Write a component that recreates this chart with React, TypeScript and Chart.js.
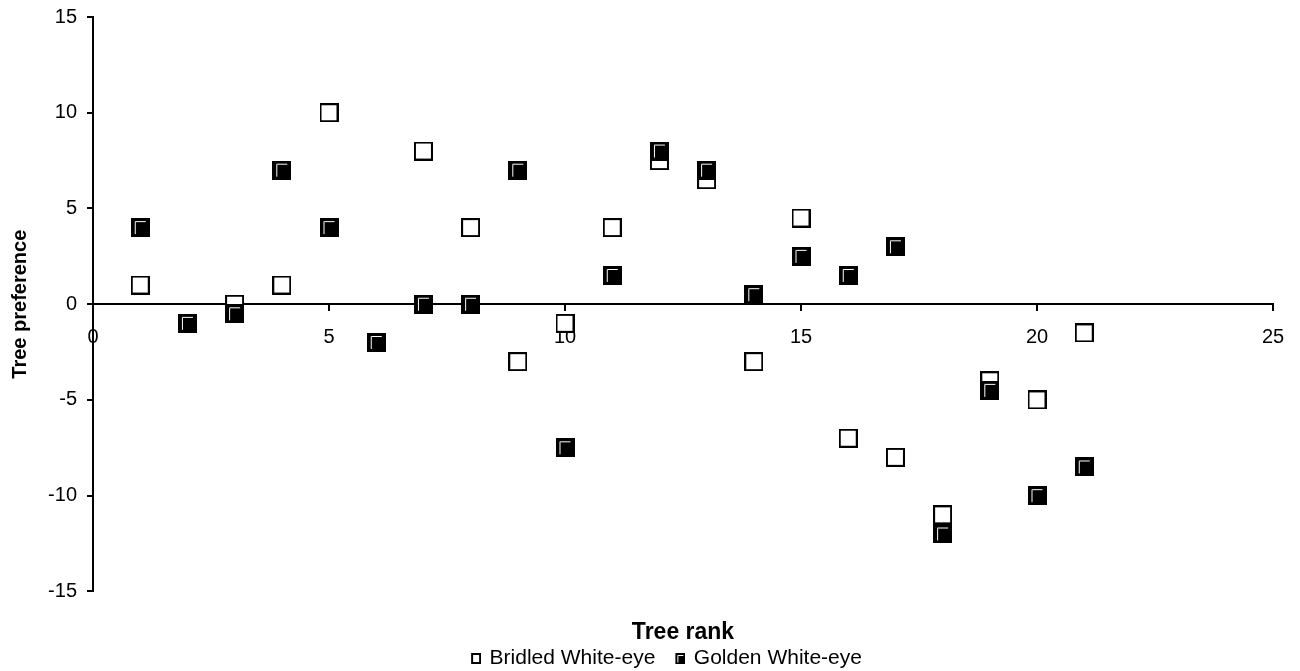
import { useEffect, useRef } from 'react';
import { Chart, registerables } from 'chart.js';

Chart.register(...registerables);

const FONT = "'Liberation Sans', Arial, sans-serif";

// tree rank on x, preference score on y (null = no visible point)
const treeRank = [1, 2, 3, 4, 5, 6, 7, 8, 9, 10, 11, 12, 13, 14, 15, 16, 17, 18, 19, 20, 21];
const bridledPref = [1, null, 0, 1, 10, null, 8, 4, -3, -1, 4, 7.5, 6.5, -3, 4.5, -7, -8, -11, -4, -5, -1.5];
const goldenPref = [4, -1, -0.5, 7, 4, -2, 0, 0, 7, -7.5, 1.5, 8, 7, 0.5, 2.5, 1.5, 3, -12, -4.5, -10, -8.5];

const xTicks = [0, 5, 10, 15, 20, 25];
const yTicks = [-15, -10, -5, 0, 5, 10, 15];

const seriesNames = ['Bridled White-eye', 'Golden White-eye'];

// square marker, white or black with the little highlight in the corner
function plotMarker(filled: boolean) {
  const c = document.createElement('canvas');
  c.width = 19;
  c.height = 19;
  const g = c.getContext('2d')!;
  g.fillStyle = filled ? '#000' : '#fff';
  g.fillRect(1, 1, 17, 17);
  g.strokeStyle = '#000';
  g.lineWidth = 2;
  g.strokeRect(1, 1, 17, 17);
  if (filled) {
    g.strokeStyle = '#fff';
    g.lineWidth = 1;
    g.beginPath();
    g.moveTo(4.5, 16);
    g.lineTo(4.5, 3.5);
    g.lineTo(15, 3.5);
    g.stroke();
  }
  return c;
}

// legend version: smaller box pushed to the right side of the image
function legendMarker(filled: boolean) {
  const c = document.createElement('canvas');
  c.width = 28;
  c.height = 11;
  const g = c.getContext('2d')!;
  g.fillStyle = filled ? '#000' : '#fff';
  g.fillRect(18, 0, 10, 11);
  g.strokeStyle = '#000';
  g.lineWidth = 2;
  g.strokeRect(19, 1, 8, 9);
  if (filled) {
    g.strokeStyle = '#fff';
    g.lineWidth = 1;
    g.beginPath();
    g.moveTo(20.5, 9.5);
    g.lineTo(20.5, 2.5);
    g.lineTo(26, 2.5);
    g.stroke();
  }
  return c;
}

export default function App() {
  const chartRef = useRef<HTMLCanvasElement>(null);
  const chartInstance = useRef<Chart | null>(null);

  useEffect(() => {
    if (!chartRef.current) return;
    if (chartInstance.current) chartInstance.current.destroy();

    const ctx = chartRef.current.getContext('2d');
    if (!ctx) return;

    const openPt = plotMarker(false);
    const filledPt = plotMarker(true);
    const legendIcons = [legendMarker(false), legendMarker(true)];

    const toPoints = (vals: (number | null)[]) =>
      treeRank
        .map((r, i) => ({ x: r, y: vals[i] }))
        .filter((p) => p.y !== null) as { x: number; y: number }[];

    const tickFont = { family: FONT, size: 20 };

    chartInstance.current = new Chart(ctx, {
      type: 'scatter',
      data: {
        datasets: [
          {
            label: seriesNames[0],
            data: toPoints(bridledPref),
            pointStyle: openPt,
            order: 1,
          },
          {
            label: seriesNames[1],
            data: toPoints(goldenPref),
            pointStyle: filledPt,
            order: 0,
          },
        ],
      },
      options: {
        animation: false,
        responsive: true,
        maintainAspectRatio: false,
        layout: {
          // left padding shifts the full-width legend to where the original sits
          padding: { top: 17, right: 27, bottom: -8, left: 44 },
        },
        scales: {
          x: {
            type: 'linear',
            position: { y: 0 },
            min: 0,
            max: 25,
            afterBuildTicks: (scale: any) => {
              scale.ticks = xTicks.map((v) => ({ value: v }));
            },
            ticks: {
              color: '#000',
              padding: 15,
              maxRotation: 0,
              font: tickFont,
            },
            grid: {
              drawOnChartArea: false,
              drawTicks: true,
              tickLength: 6,
              color: '#000',
              lineWidth: 2,
            },
            border: { color: '#000', width: 2 },
          },
          y: {
            type: 'linear',
            position: 'left',
            min: -15,
            max: 15,
            afterBuildTicks: (scale: any) => {
              scale.ticks = yTicks.map((v) => ({ value: v }));
            },
            afterFit: (scale: any) => {
              scale.width = 49;
              scale.paddingTop = 0;
              scale.paddingBottom = 0;
            },
            ticks: {
              color: '#000',
              padding: 10,
              font: tickFont,
            },
            grid: {
              drawOnChartArea: false,
              drawTicks: true,
              tickLength: 6,
              color: '#000',
              lineWidth: 2,
            },
            border: { color: '#000', width: 2 },
            title: {
              display: true,
              text: 'Tree preference',
              color: '#000',
              padding: { top: -36, bottom: 0 },
              font: { family: FONT, size: 20, weight: 'bold' },
            },
          },
        },
        plugins: {
          tooltip: { enabled: false },
          title: {
            display: true,
            text: 'Tree rank',
            position: 'bottom',
            fullSize: false,
            weight: 500,
            color: '#000',
            padding: { top: 27, bottom: -2 },
            font: { family: FONT, size: 23, weight: 'bold' },
          },
          legend: {
            position: 'bottom',
            fullSize: true,
            weight: 1000,
            labels: {
              usePointStyle: true,
              pointStyleWidth: 24,
              padding: 4,
              color: '#000',
              font: { family: FONT, size: 21 },
              generateLabels: (chart: Chart) => {
                const items = Chart.defaults.plugins.legend.labels.generateLabels(chart);
                items.sort((a: any, b: any) => a.datasetIndex - b.datasetIndex);
                return items.map((it: any) => ({
                  ...it,
                  pointStyle: legendIcons[it.datasetIndex],
                  lineWidth: 0,
                }));
              },
            },
          },
        },
      },
    } as any);

    return () => {
      if (chartInstance.current) {
        chartInstance.current.destroy();
        chartInstance.current = null;
      }
    };
  }, []);

  return (
    <div style={{ position: 'absolute', left: 0, top: 0, width: 1300, height: 671, background: '#fff' }}>
      <canvas ref={chartRef} />
    </div>
  );
}
